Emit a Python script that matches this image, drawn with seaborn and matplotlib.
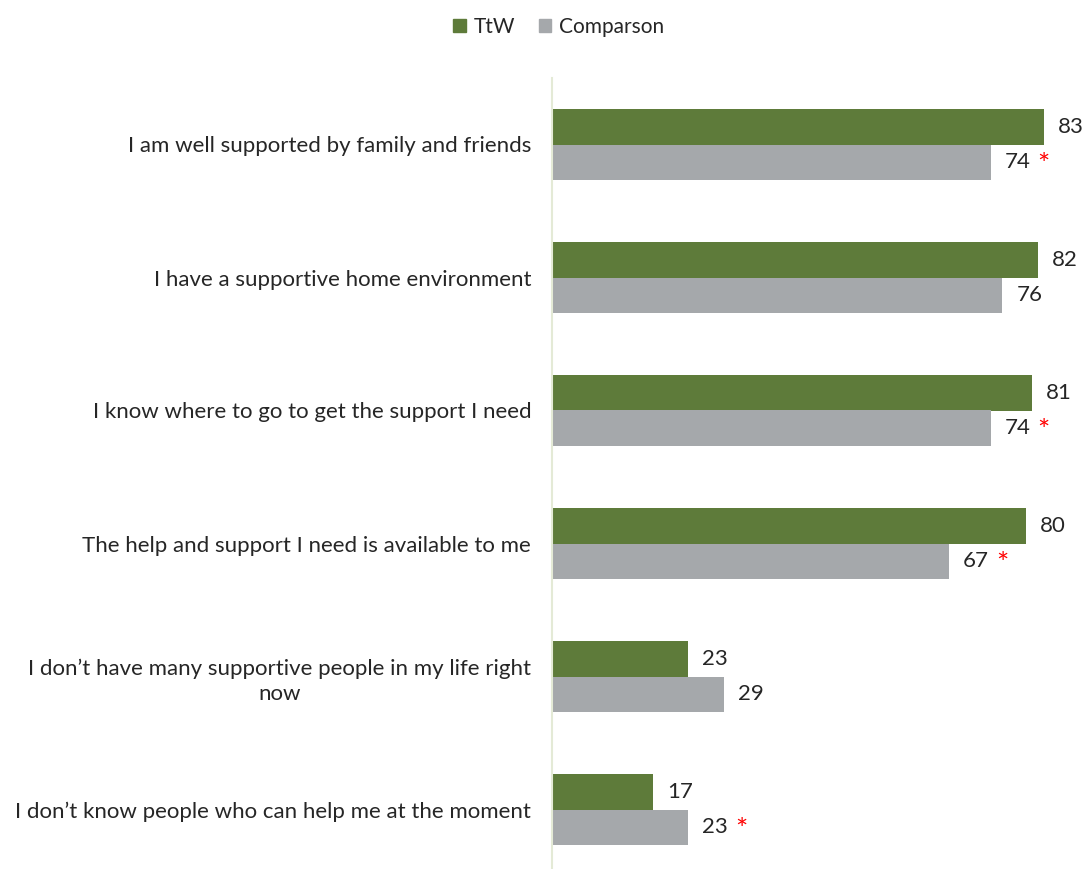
import matplotlib
matplotlib.use("Agg")
import matplotlib.pyplot as plt
import seaborn as sns
import pandas as pd
from matplotlib.patches import Patch

categories = [
    "I am well supported by family and friends",
    "I have a supportive home environment",
    "I know where to go to get the support I need",
    "The help and support I need is available to me",
    "I don\u2019t have many supportive people in my life right\nnow",
    "I don\u2019t know people who can help me at the moment",
]
ttw = [83, 82, 81, 80, 23, 17]
comparison = [74, 76, 74, 67, 29, 23]
significant = [True, False, True, True, False, True]
series_names = ["TtW", "Comparson"]

df = pd.DataFrame({
    "category": categories * 2,
    "value": ttw + comparison,
    "series": [series_names[0]] * len(categories) + [series_names[1]] * len(categories),
})

sns.set_theme(style="white")
plt.rcParams['font.family'] = ['Lato', 'DejaVu Sans']

green = "#5e7b3a"
grey = "#a5a8ab"

fig = plt.figure(figsize=(10.83, 8.69), dpi=100)
ax = fig.add_axes([552 / 1083, -7 / 869, 1 - 552 / 1083, (876 - 78) / 869])

sns.barplot(data=df, y="category", x="value", hue="series", order=categories,
            hue_order=series_names, palette=[green, grey], width=0.53,
            orient="h", ax=ax, legend=False, saturation=1, linewidth=0)

ax.set_xlim(0, 89.6)
ax.set_xlabel("")
ax.set_ylabel("")
ax.set_xticks([])
for s in ["top", "right", "bottom"]:
    ax.spines[s].set_visible(False)
ax.spines["left"].set_color("#e4ead6")
ax.spines["left"].set_linewidth(1.5)
ax.tick_params(axis="y", length=0, pad=15, labelsize=16, labelcolor="#262626")
for lbl in ax.get_yticklabels():
    lbl.set_multialignment("center")
    lbl.set_linespacing(1.35)

conts = ax.containers
for ci, cont in enumerate(conts):
    for i, bar in enumerate(cont):
        w = bar.get_width()
        yc = bar.get_y() + bar.get_height() / 2
        ax.annotate(f"{w:.0f}", (w, yc), xytext=(14, 0), textcoords="offset pixels",
                    ha="left", va="center", fontsize=16, color="#262626")
        if ci == 1 and significant[i]:
            ax.annotate("*", (w, yc), xytext=(47, -4), textcoords="offset pixels",
                        ha="left", va="center", fontsize=21, color="#ff0000")

handles = [Patch(color=green, label=series_names[0]), Patch(color=grey, label=series_names[1])]
fig.legend(handles=handles, loc="center", bbox_to_anchor=(559 / 1083, 1 - 27 / 869), ncol=2,
           frameon=False, fontsize=15, handlelength=0.6, handleheight=0.6, handletextpad=0.4,
           columnspacing=1.1)

fig.savefig("out.png", dpi=100)
